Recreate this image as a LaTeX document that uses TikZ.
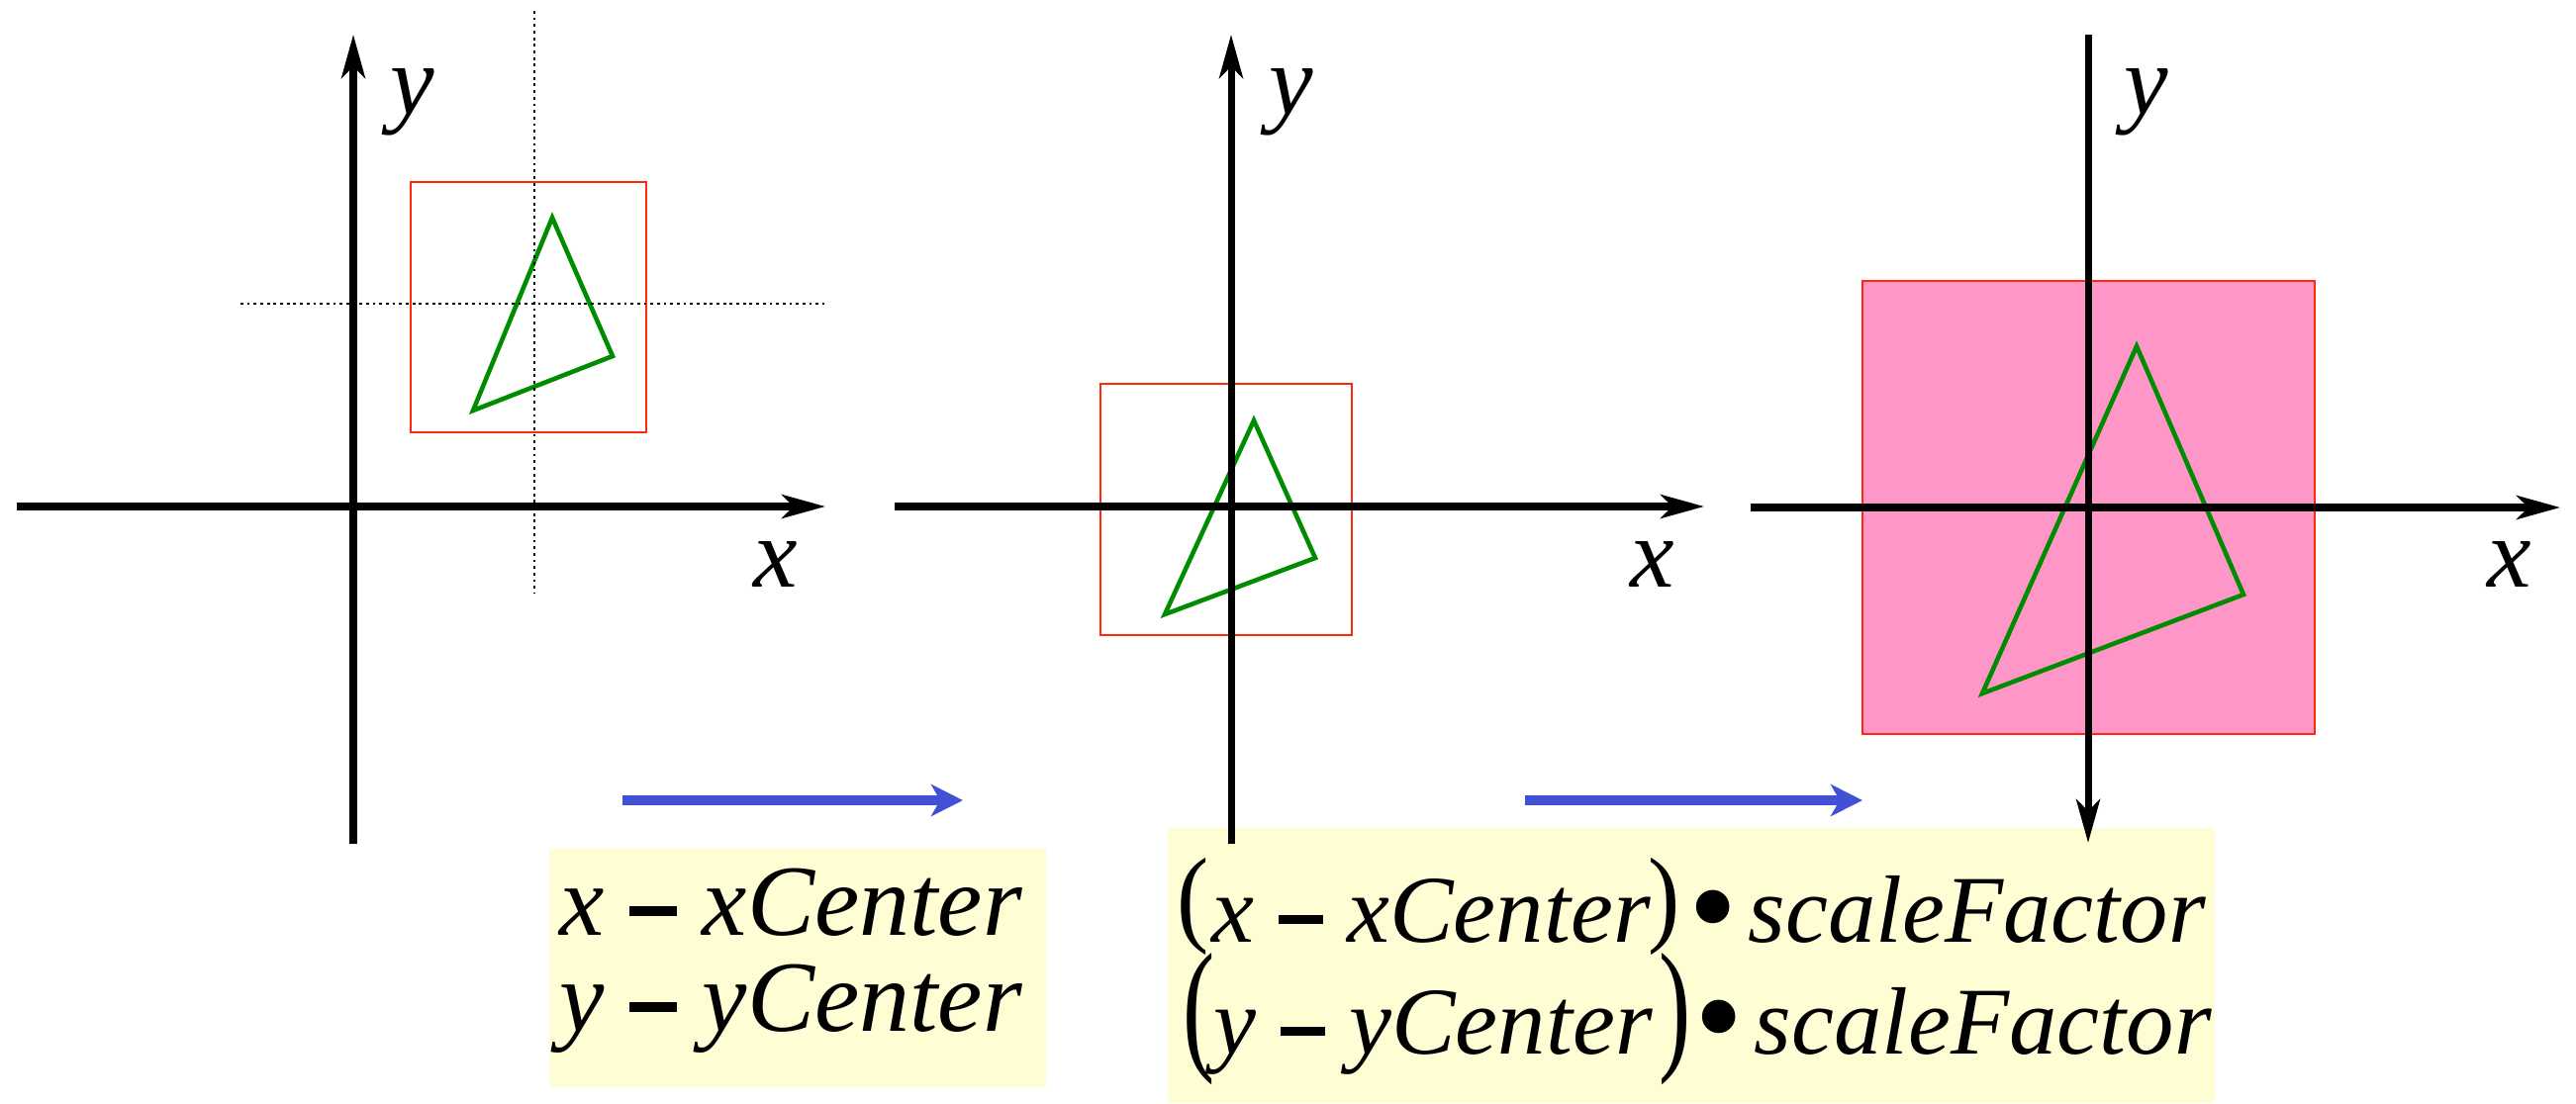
\documentclass[tikz,border=0pt]{standalone}
\usepackage{fontspec}
\setmainfont{Liberation Serif}[ItalicFont={Liberation Serif Italic}]
\usetikzlibrary{arrows.meta}

\definecolor{rectred}{RGB}{255,40,10}
\definecolor{trigreen}{RGB}{0,140,0}
\definecolor{scalepink}{RGB}{255,150,200}
\definecolor{stepblue}{RGB}{66,80,214}
\definecolor{notecream}{RGB}{255,253,212}

% thick minus bar as in the formulas
\newcommand{\mbar}{\rule[0.19em]{0.47em}{0.09em}}

\begin{document}
\begin{tikzpicture}[x=0.01cm, y=-0.01cm,
  axis/.style={line width=2pt, -{Stealth[length=4.4mm, width=2.4mm, inset=1.2mm]}},
  bbox/.style={rectred, line width=0.6pt},
  tri/.style={trigreen, line width=1.3pt},
  guide/.style={line width=0.6pt, dash pattern=on 0.8pt off 1.1pt},
  movearrow/.style={stepblue, line width=3.1pt, -{Stealth[length=3.2mm, width=3.2mm, inset=0.9mm]}},
  lbl/.style={font=\fontsize{28.5pt}{34pt}\selectfont\itshape, inner sep=0pt, anchor=base},
  formula/.style={font=\fontsize{27.5pt}{33pt}\selectfont\itshape, inner sep=0pt, anchor=base west},
  bigformula/.style={formula, font=\fontsize{29pt}{35pt}\selectfont\itshape},
  paren/.style={font=\fontsize{27.5pt}{33pt}\selectfont, inner sep=0pt},
  dot/.style={font=\fontsize{40pt}{44pt}\selectfont, inner sep=0pt}]

\useasboundingbox (0,0) rectangle (2603,1115);

% Formula backgrounds
\fill[notecream] (555,858) rectangle (1057,1099);
\fill[notecream] (1180,837) rectangle (2238,1115);

% Panel 1: window around its center
\draw[bbox] (415,184) rectangle (653,437);
\draw[tri] (558,220) -- (619,360) -- (478,415) -- cycle;
\draw[guide] (540,11) -- (540,600);
\draw[guide] (243,307) -- (833,307);
\draw[axis] (17,512) -- (834,512);
\draw[axis] (357,853) -- (357,35);
\node[lbl] (x1) at (784,593) {x};
\node[lbl] (y1) at (417,115) {y};

% Panel 2: moved to the origin
\draw[bbox] (1112,388) rectangle (1366,642);
\draw[tri] (1267,425) -- (1329,564) -- (1177,621) -- cycle;
\draw[axis] (904,512) -- (1722,512);
\draw[axis] (1244,853) -- (1244,35);
\node[lbl] (x2) at (1670,593) {x};
\node[lbl] (y2) at (1305,115) {y};

% Panel 3: scaled about the origin
\draw[bbox, fill=scalepink] (1882,284) rectangle (2339,742);
\draw[tri] (2159,350) -- (2267,601) -- (2003,701) -- cycle;
\draw[axis] (1769,513) -- (2587,513);
\draw[axis] (2110,35) -- (2110,852);
\node[lbl] (x3) at (2536,593) {x};
\node[lbl] (y3) at (2169,115) {y};

% Steps between panels
\coordinate (s1) at (629,809);
\coordinate (e1) at (973,809);
\coordinate (s2) at (1541,809);
\coordinate (e2) at (1882,809);
\draw[movearrow] (s1) -- (e1);
\draw[movearrow] (s2) -- (e2);

% First step: translate
\node[bigformula] (dx1) at (565,945) {x \mbar{} xCenter};
\node[bigformula] (dy1) at (565,1042) {y \mbar{} yCenter};

% Second step: translate and scale
\node[paren] (lp1) at (1206,916) {\scalebox{1}[1.12]{(}};
\node[formula] (dx2) at (1224,952) {x \mbar{} xCenter};
\node[paren] (rp1) at (1682,916) {\scalebox{1}[1.12]{)}};
\node[dot] (b1) at (1731,932) {•};
\node[formula] (sf1) at (1766,952) {scaleFactor};

\node[paren] (lp2) at (1212,1030) {\scalebox{1}[1.52]{(}};
\node[formula] (dy2) at (1226,1065) {y \mbar{} yCenter};
\node[paren] (rp2) at (1693,1030) {\scalebox{1}[1.52]{)}};
\node[dot] (b2) at (1737,1043) {•};
\node[formula] (sf2) at (1772,1065) {scaleFactor};

\end{tikzpicture}
\end{document}
